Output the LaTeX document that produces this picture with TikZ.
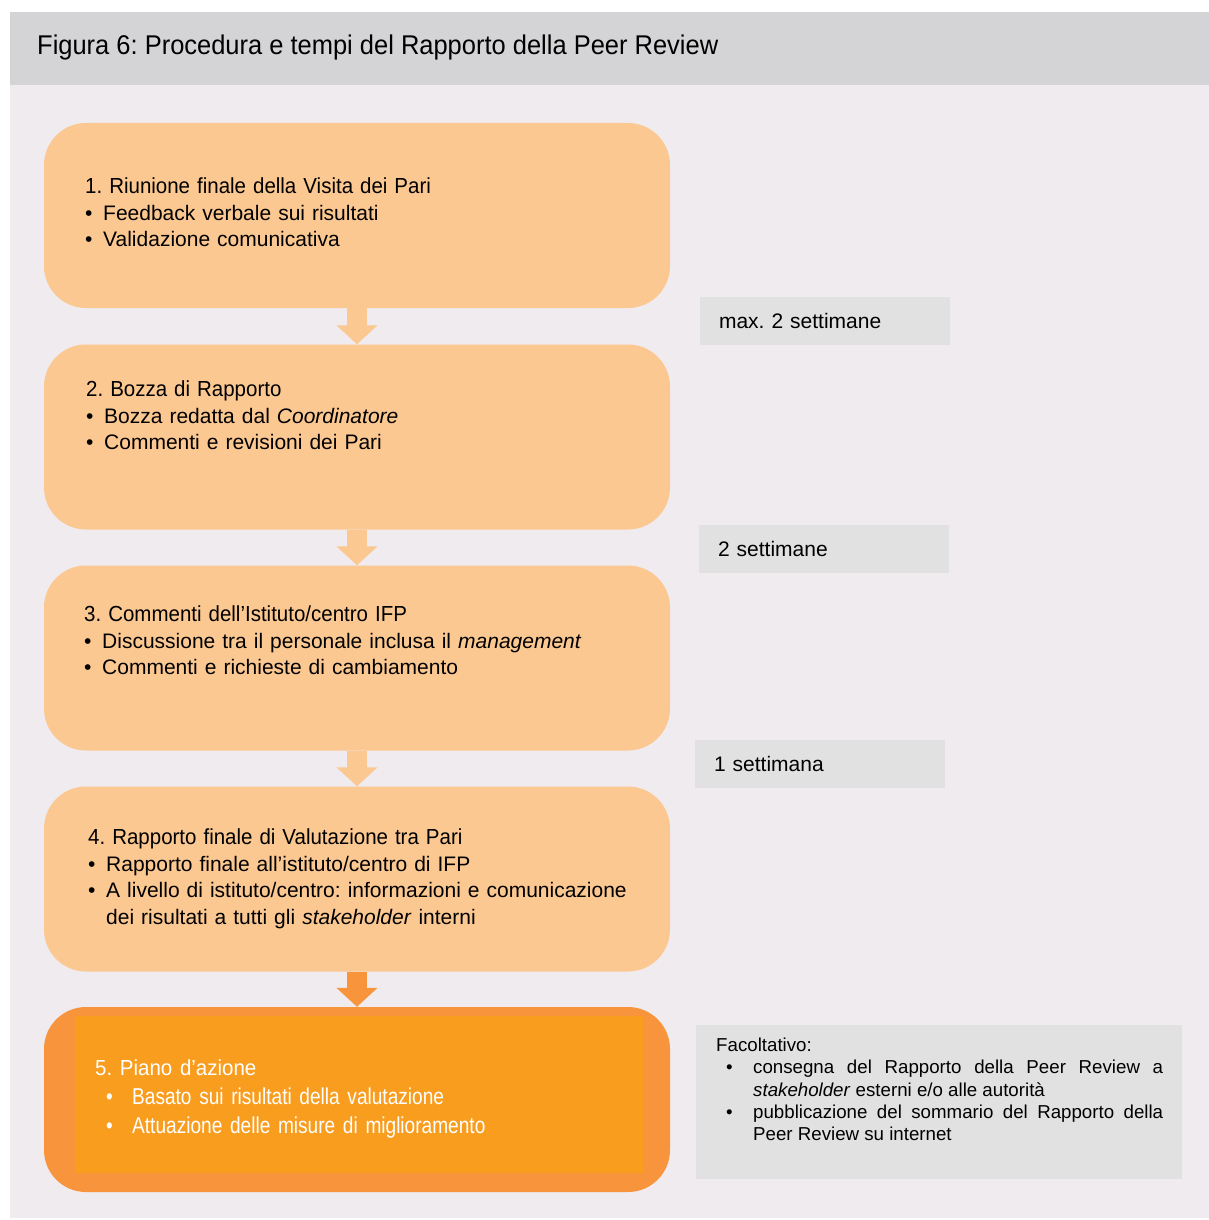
\documentclass[tikz,border=0pt]{standalone}
\usepackage{fontspec}
\setmainfont{Liberation Sans}
\newfontfamily\narrow[FakeStretch=0.94,Ligatures=TeX]{Liberation Sans}
\newfontfamily\slim[FakeStretch=0.83,Ligatures=TeX]{Liberation Sans}
\usetikzlibrary{arrows.meta}

\definecolor{peach}{RGB}{252,200,145}
\definecolor{darkpeach}{RGB}{247,148,60}
\definecolor{amber}{RGB}{249,157,31}
\definecolor{panel}{RGB}{239,235,239}
\definecolor{band}{RGB}{212,212,214}
\definecolor{notegray}{RGB}{225,225,225}

\newcommand{\bul}{\par\noindent\hangindent=18pt\hangafter=1\makebox[18pt][l]{\textbullet}}
\newcommand{\wbul}{\par\noindent\hangindent=37pt\hangafter=1\makebox[37pt][l]{\hspace{10pt}\textbullet}}
\newcommand{\obul}{\par\noindent\hangindent=37pt\hangafter=1\makebox[37pt][l]{\hspace{11pt}\textbullet}}
\newcommand{\headfont}{\fontsize{21.8}{27}\narrow}

\begin{document}
\frenchspacing
\begin{tikzpicture}[x=1pt,y=-1pt]
\tikzset{stage/.style=
            {fill=peach,rounded corners=42pt,minimum width=626pt,minimum height=185pt,inner sep=0pt},
         stagetext/.style=
            {anchor=north west,inner sep=0pt,text width=545pt,align=left,font=\fontsize{21}{26.7}\selectfont},
         note/.style=
            {fill=notegray,minimum width=250pt,minimum height=48pt,text width=212pt,inner xsep=19pt,
             align=left,font=\fontsize{21}{24}\selectfont},
         flow/.style=
            {draw=peach,line width=20pt,-{Triangle[width=40pt,length=19pt]}}}
\useasboundingbox (0,0) rectangle (1209,1220);
\fill[band] (10,12) rectangle (1209,85);
\fill[panel] (10,85) rectangle (1209,1218);
\node[anchor=west,inner sep=0pt,font=\fontsize{27.1}{30}\narrow] (title) at (37,47)
    {Figura 6: Procedura e tempi del Rapporto della Peer Review};

\node[stage] (s1) at (357,215.5) {};
\node[stage] (s2) at (357,437) {};
\node[stage] (s3) at (357,658) {};
\node[stage] (s4) at (357,879) {};
\node[stage,fill=darkpeach] (s5) at (357,1099.5) {};
\node[fill=amber,minimum width=568pt,minimum height=157pt,inner sep=0pt] (s5in) at (359,1094.5) {};

\node[stagetext] (t1) at (85,177.5)
    {{\headfont 1. Riunione finale della Visita dei Pari}
     \bul Feedback verbale sui risultati
     \bul Validazione comunicativa\par};
\node[stagetext] (t2) at (86,380.5)
    {{\headfont 2. Bozza di Rapporto}
     \bul Bozza redatta dal \textit{Coordinatore}
     \bul Commenti e revisioni dei Pari\par};
\node[stagetext] (t3) at (84,605.5)
    {{\headfont 3. Commenti dell’Istituto/centro IFP}
     \bul Discussione tra il personale inclusa il \textit{management}
     \bul Commenti e richieste di cambiamento\par};
\node[stagetext] (t4) at (88,828.5)
    {{\headfont 4. Rapporto finale di Valutazione tra Pari}
     \bul Rapporto finale all’istituto/centro di IFP
     \bul A livello di istituto/centro: informazioni e comunicazione dei risultati a tutti gli \textit{stakeholder} interni\par};
\node[stagetext,text=white,font=\fontsize{23}{29}\slim] (t5) at (95,1059)
    {{\headfont 5. Piano d’azione}
     \obul Basato sui risultati della valutazione
     \obul Attuazione delle misure di miglioramento\par};

\draw[flow] (s1) -- (s2);
\draw[flow] (s2) -- (s3);
\draw[flow] (s3) -- (s4);
\draw[flow,draw=darkpeach] (s4) -- (s5);

\node[note] (n1) at (825,321) {max. 2 settimane};
\node[note] (n2) at (824,549) {2 settimane};
\node[note] (n3) at (820,764) {1 settimana};
\node[fill=notegray,minimum width=486pt,minimum height=154pt,inner sep=0pt] (n4) at (939,1102) {};
\node[anchor=north west,inner sep=0pt,text width=447pt,align=justify,font=\fontsize{18.7}{22.2}\selectfont] (n4text) at (716,1038)
    {Facoltativo:
     \wbul consegna del Rapporto della Peer Review a \mbox{\textit{stakeholder}} esterni e/o alle autorità
     \wbul pubblicazione del sommario del Rapporto della Peer Review su internet\par};
\end{tikzpicture}
\end{document}
